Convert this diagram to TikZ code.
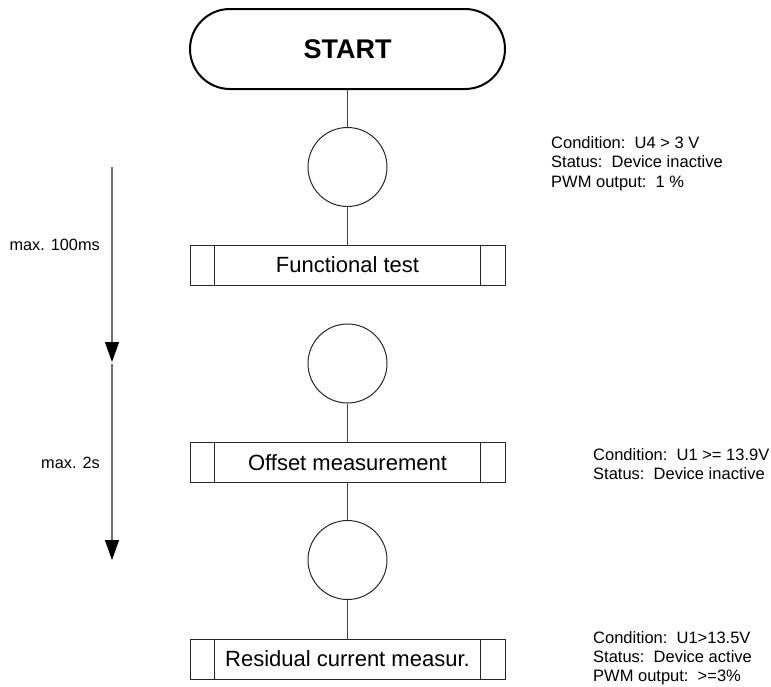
\documentclass[tikz,border=0pt]{standalone}
\usepackage{fontspec}
\setmainfont{Liberation Sans}
\usetikzlibrary{arrows.meta}
\begin{document}
\begin{tikzpicture}[x=1pt,y=-1pt,
  startbox/.style={draw=black, line width=2pt, rectangle, rounded corners=40pt, minimum width=315pt, minimum height=80pt, inner sep=0pt, font=\fontsize{27}{30}\selectfont\bfseries},
  stepnode/.style={draw=black!85, line width=1pt, rectangle, minimum width=315pt, minimum height=40pt, inner sep=0pt, font=\fontsize{22}{26}\selectfont},
  statecircle/.style={draw=black!85, line width=1pt, circle, minimum size=79pt, inner sep=0pt},
  flowline/.style={draw=black!75, line width=1pt},
  sideline/.style={draw=black!85, line width=1pt},
  timearrow/.style={draw=black!55, line width=1.4pt, -{Triangle[length=20pt,width=14pt,color=black]}},
  sidenote/.style={anchor=base west, inner sep=0pt, font=\fontsize{16.5}{19.5}\selectfont},
  lastnote/.style={anchor=base west, inner sep=0pt, font=\fontsize{16.5}{19}\selectfont},
  timelabel/.style={anchor=base east, inner sep=0pt, font=\fontsize{16.3}{19.5}\selectfont}]
\path[use as bounding box] (0,0) rectangle (771,686);

% flow elements
\node[startbox] (start) at (347.5,49) {START};
\node[statecircle] (c1) at (347.5,167) {};
\node[stepnode] (b1) at (347.5,265) {Functional test};
\node[statecircle] (c2) at (347.5,363.5) {};
\node[stepnode] (b2) at (347.5,462.5) {Offset measurement};
\node[statecircle] (c3) at (347.5,560) {};
\node[stepnode] (b3) at (347.5,659) {Residual current measur.};

% inner side bars of the process boxes
\foreach \b in {b1,b2,b3}{
  \draw[sideline] ([xshift=25pt]\b.north west) -- ([xshift=25pt]\b.south west);
  \draw[sideline] ([xshift=-25pt]\b.north east) -- ([xshift=-25pt]\b.south east);
}

% connectors
\draw[flowline] (start) -- (c1);
\draw[flowline] (c1) -- (b1);
\draw[flowline] (c2) -- (b2);
\draw[flowline] (b2) -- (c3);
\draw[flowline] (c3) -- (b3);

% time arrows
\coordinate (t1s) at (112,167);
\coordinate (t1e) at (112,362);
\coordinate (t2s) at (112,364);
\coordinate (t2e) at (112,560);
\draw[timearrow] (t1s) -- (t1e);
\draw[timearrow] (t2s) -- (t2e);
\node[timelabel] (l1) at (100,250.5) {max. 100ms};
\node[timelabel] (l2) at (100,468.5) {max. 2s};

% side notes
\node[sidenote] (n1) at (551,148) {\begin{tabular}[t]{@{}l@{}}Condition:\ \ U4 > 3 V\\Status:\ \ Device inactive\\PWM output:\ \ 1 \%\end{tabular}};
\node[sidenote] (n2) at (593,460) {\begin{tabular}[t]{@{}l@{}}Condition:\ \ U1 >= 13.9V\\Status:\ \ Device inactive\end{tabular}};
\node[lastnote] (n3) at (593,643.5) {\begin{tabular}[t]{@{}l@{}}Condition:\ \ U1>13.5V\\Status:\ \ Device active\\PWM output:\ \ >=3\%\end{tabular}};
\end{tikzpicture}
\end{document}
